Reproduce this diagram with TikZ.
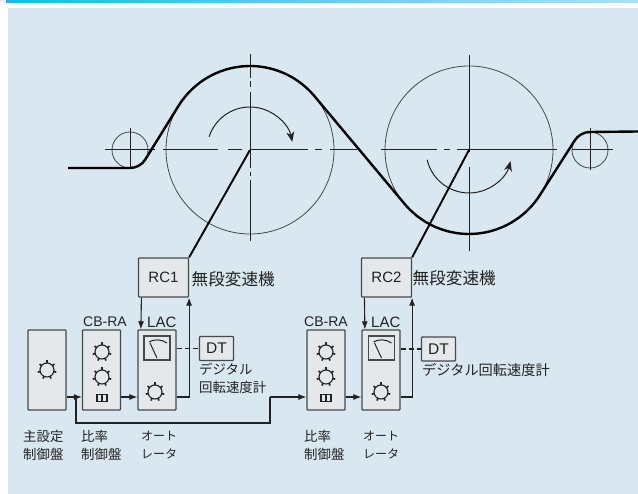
\documentclass[tikz,border=0pt]{standalone}
\usepackage{fontspec}
\setmainfont{Liberation Sans}
\newfontfamily\jp{Noto Sans CJK JP}
\usetikzlibrary{arrows.meta,calc,shadings}
\definecolor{bgblue}{HTML}{D9E7F0}
\definecolor{panelfill}{HTML}{E5E8EA}
\definecolor{ink}{HTML}{222222}
\definecolor{edge}{HTML}{44494C}
\definecolor{bandcyan}{HTML}{12BDF0}
\definecolor{bandpale}{HTML}{A6E2F7}
\tikzset{
  panel/.style={draw=edge,fill=panelfill,line width=1.2pt,rounded corners=0.8pt,inner sep=0pt,minimum width=#1},
  panel/.default=38pt,
  tall/.style={panel=38pt,minimum height=80pt},
  rcbox/.style={panel=50pt,minimum height=39pt,font=\fontsize{15}{15}\selectfont,text=ink},
  dtbox/.style={panel=34pt,minimum height=24pt,font=\fontsize{15.5}{15.5}\selectfont,text=ink},
  meter/.style={draw=edge,fill=panelfill,line width=1.3pt,inner sep=0pt,minimum width=26pt,minimum height=24pt},
  knob/.style={circle,draw=ink,line width=1.1pt,inner sep=0pt,minimum size=14pt},
  switchbox/.style={draw=ink,line width=1.3pt,fill=panelfill,inner sep=0pt,minimum width=10pt,minimum height=6.5pt},
  lab/.style={font=\fontsize{14}{14}\selectfont,text=ink,inner sep=0pt},
  jplab/.style={font=\jp\fontsize{13.4}{17.8}\selectfont,text=ink,inner sep=0pt,anchor=north west,align=left},
  jpkana/.style={font=\jp\fontsize{12}{17.8}\selectfont,text=ink,inner sep=0pt,anchor=north west,align=left},
  jpwide/.style={font=\jp\fontsize{14.2}{17}\selectfont,text=ink,inner sep=0pt,anchor=north west},
  jpbig/.style={font=\jp\fontsize{16.6}{16.6}\selectfont,text=ink,inner sep=0pt,anchor=west},
  wheel/.style={draw=edge,line width=0.8pt},
  center/.style={draw=ink,line width=1pt},
  belt/.style={draw=black,line width=2.4pt,line join=round},
  shaft/.style={draw=black,line width=1.9pt},
  signal/.style={draw=ink,line width=1.1pt},
  tip/.style={-{Latex[length=8pt,width=6pt]}},
  turn/.style={draw=ink,line width=1pt,-{Stealth[length=10pt,width=8pt,inset=3pt]}},
}
\newcommand{\dial}[3]{%
  \node[knob] (#1) at (#2,#3) {};
  \foreach \a in {90,38.6,-12.9,-64.3,-115.7,-167.1,141.4}
    \draw[ink,line width=1.6pt] ($(#1.center)+(\a:6.5pt)$) -- ($(#1.center)+(\a:9.5pt)$);
}
\newcommand{\needle}[1]{%
  \draw[ink,line width=1pt] ($(#1.center)+(-8,-6)$) .. controls ($(#1.center)+(-3,-9)$) and ($(#1.center)+(4,-9)$) .. ($(#1.center)+(10,-5)$);
  \draw[ink,line width=1pt] ($(#1.center)+(-7,-5)$) -- ($(#1.center)+(0,10)$);
}
\begin{document}
\begin{tikzpicture}[x=1pt,y=-1pt]
\useasboundingbox (0,0) rectangle (638,494);
\fill[white] (0,0) rectangle (638,494);
\fill[bgblue] (8,8) rectangle (638,494);
\shade[left color=bandcyan,right color=bandpale] (6,0) rectangle (638,2.4);

% wheels
\coordinate (c1) at (250,150);
\coordinate (c2) at (469,150);
\coordinate (s1) at (130,150);
\coordinate (s2) at (590,150);
\draw[wheel] (c1) circle (84pt);
\draw[wheel] (c2) circle (84pt);
\draw[wheel] (s1) circle (18pt);
\draw[wheel] (s2) circle (18pt);

% centre lines
\draw[center] (105,150) -- (155,150) (163,150) -- (218,150) (228,150) -- (242,150) (250,150) -- (308,150) (315,150) -- (322,150) (330,150) -- (357,150);
\draw[center] (250,54) -- (250,78) (250,81) -- (250,87) (250,92) -- (250,168) (250,172) -- (250,176) (250,180) -- (250,241);
\draw[center] (130,128) -- (130,168);
\draw[center] (381,150) -- (437,150) (444,150) -- (450,150) (457,150) -- (557,150);
\draw[center] (469,55) -- (469,152) (469,167) -- (469,251);
\draw[center] (572,150) -- (613,150);
\draw[center] (590,128) -- (590,170);

% rotation arrows
\draw[turn] ($(c1)+(162:43pt)$) arc[start angle=162,end angle=11,radius=43pt];
\draw[turn] ($(c2)+(193:43pt)$) arc[start angle=193,end angle=345,radius=43pt];

% belt
\draw[belt] (68,168) -- (130,168) arc[start angle=-90,end angle=-31.8,radius=18pt]
  -- ($(c1)+(148.2:84pt)$) arc[start angle=148.2,end angle=39.9,radius=84pt]
  -- ($(c2)+(219.9:84pt)$) arc[start angle=219.9,end angle=327.5,radius=84pt]
  -- ($(s2)+(147.5:18pt)$) arc[start angle=147.5,end angle=90,radius=18pt]
  -- (638,131.5);

% boxes
\node[rcbox] (rc1) at (163.5,277.5) {RC1};
\node[rcbox] (rc2) at (386.5,277.5) {RC2};
\node[tall] (main) at (47,370) {};
\node[tall] (cb1) at (101.5,370) {};
\node[tall] (lac1) at (157,370) {};
\node[tall] (cb2) at (326,370) {};
\node[tall] (lac2) at (381,370) {};
\node[dtbox] (dt1) at (216.5,348.5) {DT};
\node[dtbox] (dt2) at (438.5,349) {DT};
\node[meter] (m1) at (157,348) {};
\node[meter] (m2) at (381.5,348) {};
\needle{m1}
\needle{m2}

% dials
\dial{k0}{47}{370}
\dial{k1}{102}{352}
\dial{k2}{102}{377}
\dial{k3}{155}{392}
\dial{k4}{326}{352}
\dial{k5}{326}{377}
\dial{k6}{381}{392}
\node[switchbox] (sw1) at (102,398) {};
\node[switchbox] (sw2) at (326,398) {};
\draw[ink,line width=1.1pt] (sw1.north) -- (sw1.south) (sw2.north) -- (sw2.south);

% shafts
\draw[shaft] (c1) -- (rc1.north east);
\draw[shaft] (c2) -- (rc2.north east);

% signal lines
\coordinate (j1) at (76,397);
\coordinate (r1) at (270,397);
\coordinate (l1) at (76,423);
\coordinate (r0) at (270,423);
\draw[signal,tip] (main.east |- j1) -- (cb1.west |- j1);
\draw[signal] (j1) -- (l1) -- (r0) -- (r1);
\draw[signal,tip] (r1) -- (cb2.west |- r1);
\draw[signal,tip] (cb1.east |- j1) -- (lac1.west |- j1);
\draw[signal,tip] (cb2.east |- r1) -- (lac2.west |- r1);
\draw[signal,tip] (lac1.east |- j1) -| (rc1.south east);
\draw[signal,tip] (lac2.east |- r1) -| (rc2.south east);
\draw[signal,tip] ($(rc1.south west)+(3.5,0)$) -- ($(lac1.north west)+(3.5,0)$);
\draw[signal,tip] ($(rc2.south west)+(3.5,0)$) -- ($(lac2.north west)+(3.5,0)$);
\draw[signal,dash pattern=on 5pt off 3pt] (lac1.east |- dt1.west) -- (dt1.west);
\draw[signal,dash pattern=on 5pt off 3pt] (lac2.east |- dt2.west) -- (dt2.west);

% labels
\node[lab,anchor=west] (tcb1) at (83,322) {CB-RA};
\node[lab,anchor=west] (tcb2) at (304,322) {CB-RA};
\node[lab,anchor=west,font=\fontsize{15}{15}\selectfont] (tl1) at (147,322) {LAC};
\node[lab,anchor=west,font=\fontsize{15}{15}\selectfont] (tl2) at (371,322) {LAC};
\node[jpbig] (t1) at (191.5,279) {無段変速機};
\node[jpbig] (t2) at (412.5,278) {無段変速機};
\node[jplab] (t3) at (199,363) {デジタル\\回転速度計};
\node[jpwide] (t4) at (422,363) {デジタル回転速度計};
\node[jplab] (t5) at (23,430) {主設定\\制御盤};
\node[jplab] (t6) at (81,430) {比率\\制御盤};
\node[jpkana] (t7) at (141,431) {オート\\レータ};
\node[jplab] (t8) at (304,430) {比率\\制御盤};
\node[jpkana] (t9) at (363,431) {オート\\レータ};
\end{tikzpicture}
\end{document}
